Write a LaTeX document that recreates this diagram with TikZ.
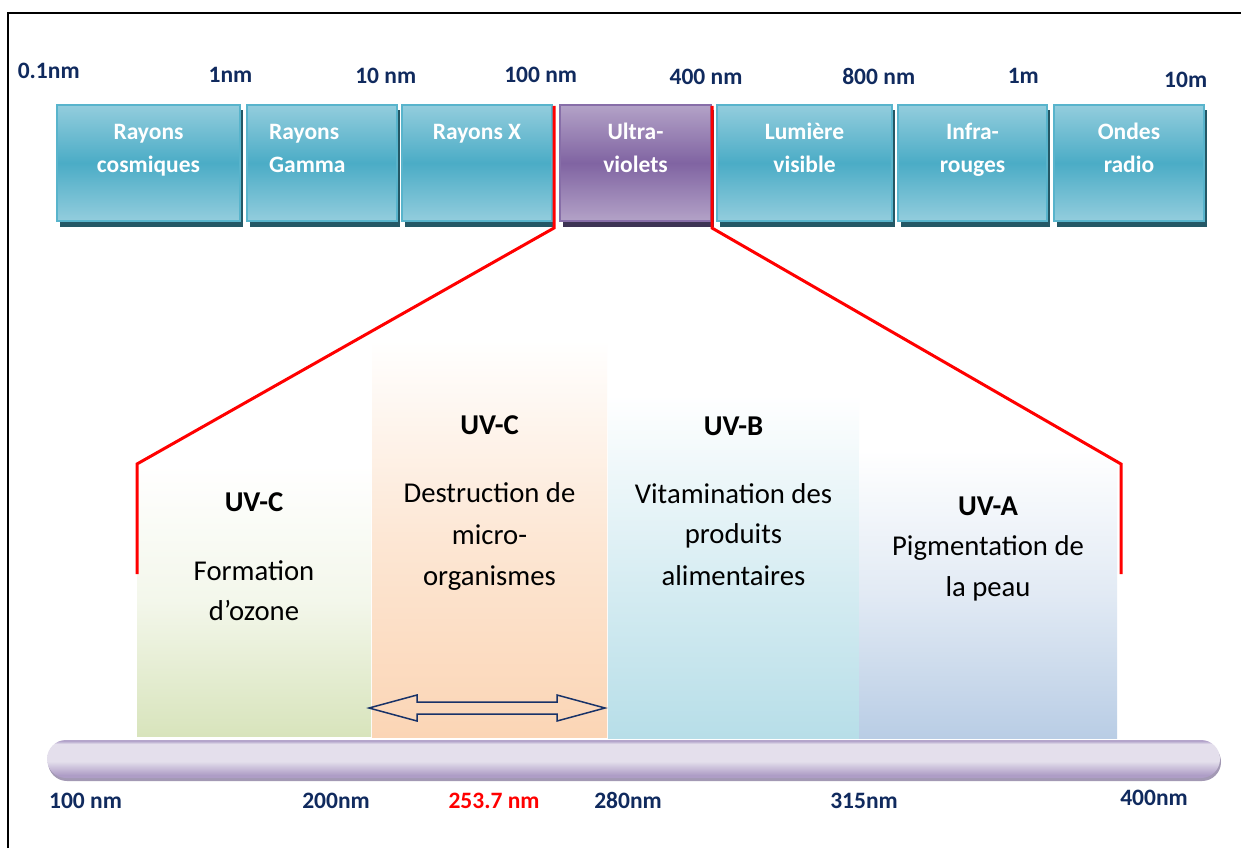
\documentclass[tikz,border=0pt]{standalone}
\usepackage{fontspec}
\setmainfont{Carlito}
\usetikzlibrary{shadows}

\definecolor{tealTop}{RGB}{147,205,221}
\definecolor{tealMid}{RGB}{75,172,198}
\definecolor{tealEdge}{RGB}{88,180,204}
\definecolor{tealShadow}{RGB}{36,88,102}
\definecolor{uvTop}{RGB}{179,162,199}
\definecolor{uvMid}{RGB}{128,100,162}
\definecolor{uvEdge}{RGB}{135,110,168}
\definecolor{uvShadow}{RGB}{62,52,84}
\definecolor{navy}{RGB}{16,42,94}
\definecolor{arrowBlue}{RGB}{24,50,104}
\definecolor{ozoneGreen}{RGB}{216,228,188}
\definecolor{peach}{RGB}{251,213,181}
\definecolor{aqua}{RGB}{183,222,232}
\definecolor{lavBlue}{RGB}{185,205,229}
\definecolor{tubeLow}{RGB}{174,157,198}
\definecolor{tubeHigh}{RGB}{228,223,236}
\definecolor{tubeTop}{RGB}{180,165,203}
\definecolor{tubeShadow}{RGB}{163,153,180}

% the fitted part of a TikZ shading is its middle band, 25bp to 75bp
\pgfdeclareverticalshading{tubeshade}{100bp}{%
  color(0bp)=(tubeLow); color(25bp)=(tubeLow); color(29bp)=(tubeLow);
  color(47bp)=(tubeHigh); color(70bp)=(tubeHigh); color(73.5bp)=(tubeTop);
  color(100bp)=(tubeTop)}

\begin{document}
\begin{tikzpicture}[x=1pt,y=-1pt,
  band/.style={rectangle, inner sep=0pt, minimum height=116pt, line width=1.5pt},
  tealband/.style={band, draw=tealEdge, top color=tealTop, bottom color=tealTop,
    middle color=tealMid,
    general shadow={fill=tealShadow, shadow xshift=2.5pt, shadow yshift=-5.5pt}},
  uvband/.style={band, draw=uvEdge, top color=uvTop, bottom color=uvTop,
    middle color=uvMid,
    general shadow={fill=uvShadow, shadow xshift=2.5pt, shadow yshift=-5.5pt}},
  bandtext/.style={font=\fontsize{23.5}{28}\selectfont\bfseries, text=white,
    inner sep=0pt, anchor=base},
  scalelabel/.style={font=\fontsize{23.5}{28}\selectfont\bfseries, text=navy,
    inner sep=0pt, anchor=base},
  colbox/.style={rectangle, inner sep=0pt, draw=none},
  colhead/.style={font=\fontsize{28.7}{34}\selectfont\bfseries, inner sep=0pt, anchor=base},
  coltext/.style={font=\fontsize{28.7}{34}\selectfont, inner sep=0pt, anchor=base},
  zoomline/.style={draw=red, line width=3pt, line join=miter}
]
\useasboundingbox (0,0) rectangle (1241,848);
\fill[white] (0,0) rectangle (1241,848);

% outer frame
\draw[line width=2pt] (8.3,848) -- (8.3,12.7) -- (1241,12.7);

% wavelength scale of the spectrum
\node[scalelabel] (l01) at (48.7,78.3) {0.1nm};
\node[scalelabel] (l1) at (230.5,83) {1nm};
\node[scalelabel] (l10) at (385.7,83.3) {10 nm};
\node[scalelabel] (l100) at (540.7,83) {100 nm};
\node[scalelabel] (l400) at (706,85) {400 nm};
\node[scalelabel] (l800) at (878.7,84.3) {800 nm};
\node[scalelabel] (l1m) at (1023.3,84) {1m};
\node[scalelabel] (l10m) at (1185.7,87.3) {10m};

% spectrum bands
\node[tealband, minimum width=183pt] (b1) at (148.5,163) {};
\node[tealband, minimum width=150pt] (b2) at (322,163) {};
\node[tealband, minimum width=150pt] (b3) at (477,163) {};
\node[uvband, minimum width=151pt] (b4) at (635.5,163) {};
\node[tealband, minimum width=175pt] (b5) at (804.5,163) {};
\node[tealband, minimum width=149pt] (b6) at (972.5,163) {};
\node[tealband, minimum width=150pt] (b7) at (1129,163) {};

\node[bandtext] (t1a) at (148.5,139.5) {Rayons};
\node[bandtext] (t1b) at (148.5,172) {cosmiques};
\node[bandtext, anchor=base west] (t2a) at (269,139.5) {Rayons};
\node[bandtext, anchor=base west] (t2b) at (269,172) {Gamma};
\node[bandtext] (t3a) at (477,139.5) {Rayons X};
\node[bandtext] (t4a) at (635.5,139.5) {Ultra-};
\node[bandtext] (t4b) at (635.5,172) {violets};
\node[bandtext] (t5a) at (804.5,139.5) {Lumière};
\node[bandtext] (t5b) at (804.5,172) {visible};
\node[bandtext] (t6a) at (972.5,139.5) {Infra-};
\node[bandtext] (t6b) at (972.5,172) {rouges};
\node[bandtext] (t7a) at (1129,139.5) {Ondes};
\node[bandtext] (t7b) at (1129,172) {radio};

% ultraviolet sub-bands
\node[colbox, minimum width=234pt, minimum height=271pt,
  top color=white, bottom color=ozoneGreen, middle color=ozoneGreen!30] (c1) at (254,600.5) {};
\node[colbox, minimum width=235pt, minimum height=397pt,
  top color=white, bottom color=peach, middle color=peach!58] (c2) at (489.5,538.5) {};
\node[colbox, minimum width=251pt, minimum height=343pt,
  top color=white, bottom color=aqua, middle color=aqua!52] (c3) at (733.5,566.5) {};
\node[colbox, minimum width=258pt, minimum height=288pt,
  top color=white, bottom color=lavBlue, middle color=lavBlue!42] (c4) at (988,594) {};

\node[colhead] (h1) at (254,511.7) {UV-C};
\node[coltext] (d1a) at (254,580) {Formation};
\node[coltext] (d1b) at (254,620.7) {d’ozone};

\node[colhead] (h2) at (489.5,434) {UV-C};
\node[coltext] (d2a) at (489.5,502.3) {Destruction de};
\node[coltext] (d2b) at (489.5,544) {micro-};
\node[coltext] (d2c) at (489.5,585) {organismes};

\node[colhead] (h3) at (733.5,435) {UV-B};
\node[coltext] (d3a) at (733.5,503.3) {Vitamination des};
\node[coltext] (d3b) at (733.5,543.3) {produits};
\node[coltext] (d3c) at (733.5,585) {alimentaires};

\node[colhead] (h4) at (988,515) {UV-A};
\node[coltext] (d4a) at (988,555) {Pigmentation de};
\node[coltext] (d4b) at (988,596.7) {la peau};

% germicidal range block arrow
\draw[arrowBlue, line width=1.5pt, line join=miter]
  (369,708) -- (417,695) -- (417,702) -- (557,702) -- (557,695) -- (605,708)
  -- (557,721) -- (557,714) -- (417,714) -- (417,721) -- cycle;

% zoom lines from the ultraviolet band
\coordinate (zl1) at (554,106);
\coordinate (zl2) at (554,228);
\coordinate (zl3) at (137,464);
\coordinate (zl4) at (137,574);
\coordinate (zr1) at (712,106);
\coordinate (zr2) at (712,228);
\coordinate (zr3) at (1121,464);
\coordinate (zr4) at (1121,574);
\draw[zoomline] (zl1) -- (zl2) -- (zl3) -- (zl4);
\draw[zoomline] (zr1) -- (zr2) -- (zr3) -- (zr4);

% ultraviolet wavelength bar
\node[rectangle, inner sep=0pt, rounded corners=19pt, minimum width=1173pt,
  minimum height=38pt, shading=tubeshade,
  general shadow={fill=tubeShadow, shadow yshift=-3pt, shadow xshift=1pt}] (bar) at (633.5,759) {};

\node[scalelabel] (u100) at (85.5,808.3) {100 nm};
\node[scalelabel] (u200) at (336,808.3) {200nm};
\node[scalelabel, text=red] (u254) at (494,808.3) {253.7 nm};
\node[scalelabel] (u280) at (628,808.3) {280nm};
\node[scalelabel] (u315) at (864,808.3) {315nm};
\node[scalelabel] (u400) at (1154,805) {400nm};
\end{tikzpicture}
\end{document}
